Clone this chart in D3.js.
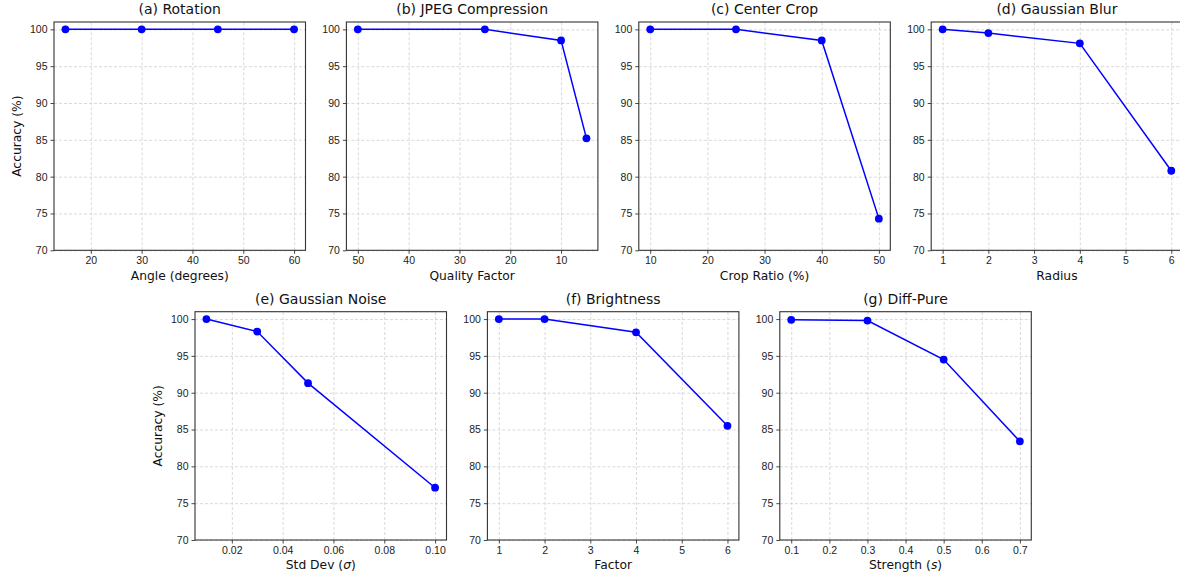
<!DOCTYPE html>
<html>
<head>
<meta charset="utf-8">
<script src="https://cdn.jsdelivr.net/npm/d3@7"></script>
<style>
  body { margin: 0; background: #fff; }
  svg { font-family: "DejaVu Sans", sans-serif; }
  .tick text { fill: #222; }
</style>
</head>
<body>
<div id="chart"></div>
<script>
// values
const rotationX = [15, 30, 45, 60];
const rotationY = [100, 100, 100, 100];
const jpegX = [50, 25, 10, 5];
const jpegY = [100, 100, 98.5, 85.2];
const cropX = [10, 25, 40, 50];
const cropY = [100, 100, 98.5, 74.3];
const blurX = [1, 2, 4, 6];
const blurY = [100, 99.5, 98.1, 80.8];
const noiseX = [0.01, 0.03, 0.05, 0.10];
const noiseY = [100, 98.3, 91.3, 77.1];
const brightX = [1, 2, 4, 6];
const brightY = [100, 100, 98.2, 85.5];
const pureX = [0.1, 0.3, 0.5, 0.7];
const pureY = [99.9, 99.8, 94.5, 83.4];

const yTicks = [70, 75, 80, 85, 90, 95, 100];

const panels = [
  {title: "(a) Rotation", xlabel: "Angle (degrees)", x: rotationX, y: rotationY, ticks: [20, 30, 40, 50, 60], fmt: d3.format("d"), ylabel: true},
  {title: "(b) JPEG Compression", xlabel: "Quality Factor", x: jpegX, y: jpegY, ticks: [50, 40, 30, 20, 10], fmt: d3.format("d"), reverse: true},
  {title: "(c) Center Crop", xlabel: "Crop Ratio (%)", x: cropX, y: cropY, ticks: [10, 20, 30, 40, 50], fmt: d3.format("d")},
  {title: "(d) Gaussian Blur", xlabel: "Radius", x: blurX, y: blurY, ticks: [1, 2, 3, 4, 5, 6], fmt: d3.format("d")},
  {title: "(e) Gaussian Noise", xlabel: "Std Dev (σ)", x: noiseX, y: noiseY, ticks: [0.02, 0.04, 0.06, 0.08, 0.10], fmt: d3.format(".2f"), ylabel: true, sym: "σ"},
  {title: "(f) Brightness", xlabel: "Factor", x: brightX, y: brightY, ticks: [1, 2, 3, 4, 5, 6], fmt: d3.format("d")},
  {title: "(g) Diff-Pure", xlabel: "Strength (s)", x: pureX, y: pureY, ticks: [0.1, 0.2, 0.3, 0.4, 0.5, 0.6, 0.7], fmt: d3.format(".1f"), sym: "s"}
];

const svgWidth = 1180, svgHeight = 577;
const plotW = 251.5, plotH = 228.3, step = 292.4;

const svg = d3.select("#chart").append("svg")
  .attr("width", svgWidth)
  .attr("height", svgHeight);

panels.forEach(function(p, i) {
  const left = i < 4 ? 54 + i * step : 195 + (i - 4) * step;
  const top = i < 4 ? 22 : 311.7;

  const g = svg.append("g").attr("transform", `translate(${left}, ${top})`);

  // matplotlib style 5% padding on x
  const lo = d3.min(p.x), hi = d3.max(p.x), pad = (hi - lo) * 0.05;
  const xScale = d3.scaleLinear()
    .domain(p.reverse ? [hi + pad, lo - pad] : [lo - pad, hi + pad])
    .range([0, plotW]);
  const yScale = d3.scaleLinear().domain([70, 101]).range([plotH, 0]);

  // grid
  g.append("g")
    .attr("transform", `translate(0, ${plotH})`)
    .call(d3.axisBottom(xScale).tickValues(p.ticks).tickSize(-plotH).tickFormat(""))
    .call(s => s.select(".domain").remove())
    .selectAll("line")
    .attr("stroke", "#cfcfcf").attr("stroke-width", 0.8).attr("stroke-dasharray", "3,2");
  g.append("g")
    .call(d3.axisLeft(yScale).tickValues(yTicks).tickSize(-plotW).tickFormat(""))
    .call(s => s.select(".domain").remove())
    .selectAll("line")
    .attr("stroke", "#cfcfcf").attr("stroke-width", 0.8).attr("stroke-dasharray", "3,2");

  // line + markers
  const pts = p.x.map((v, k) => [v, p.y[k]]);
  g.append("path")
    .datum(pts)
    .attr("fill", "none")
    .attr("stroke", "#0000ff")
    .attr("stroke-width", 1.5)
    .attr("d", d3.line().x(d => xScale(d[0])).y(d => yScale(d[1])));
  g.selectAll(".dot")
    .data(pts)
    .enter()
    .append("circle")
    .attr("cx", d => xScale(d[0]))
    .attr("cy", d => yScale(d[1]))
    .attr("r", 3.9)
    .attr("fill", "#0000ff");

  // axes
  const xAxis = g.append("g")
    .attr("transform", `translate(0, ${plotH})`)
    .call(d3.axisBottom(xScale).tickValues(p.ticks).tickFormat(p.fmt).tickSize(3.5).tickPadding(3));
  const yAxis = g.append("g")
    .call(d3.axisLeft(yScale).tickValues(yTicks).tickSize(3.5).tickPadding(3));
  [xAxis, yAxis].forEach(function(ax) {
    ax.select(".domain").remove();
    ax.selectAll("line").attr("stroke", "#333").attr("stroke-width", 0.9);
    ax.selectAll("text").style("font-size", "10.5px").attr("fill", "#222");
  });

  // frame
  g.append("rect")
    .attr("width", plotW).attr("height", plotH)
    .attr("fill", "none").attr("stroke", "#333").attr("stroke-width", 1.1);

  // title
  g.append("text")
    .attr("x", plotW / 2).attr("y", -8)
    .attr("text-anchor", "middle")
    .style("font-size", "14px").attr("fill", "#111")
    .text(p.title);

  // x label, italic symbol for sigma / s
  const xl = g.append("text")
    .attr("x", plotW / 2).attr("y", plotH + 29.5)
    .attr("text-anchor", "middle")
    .style("font-size", "12.3px").attr("fill", "#111");
  if (p.sym) {
    const parts = p.xlabel.split(p.sym);
    xl.append("tspan").text(parts[0]);
    xl.append("tspan").style("font-style", "italic").text(p.sym);
    xl.append("tspan").text(parts[1]);
  } else {
    xl.text(p.xlabel);
  }

  if (p.ylabel) {
    g.append("text")
      .attr("transform", `translate(-33, ${plotH / 2}) rotate(-90)`)
      .attr("text-anchor", "middle")
      .style("font-size", "12.3px").attr("fill", "#111")
      .text("Accuracy (%)");
  }
});
</script>
</body>
</html>
